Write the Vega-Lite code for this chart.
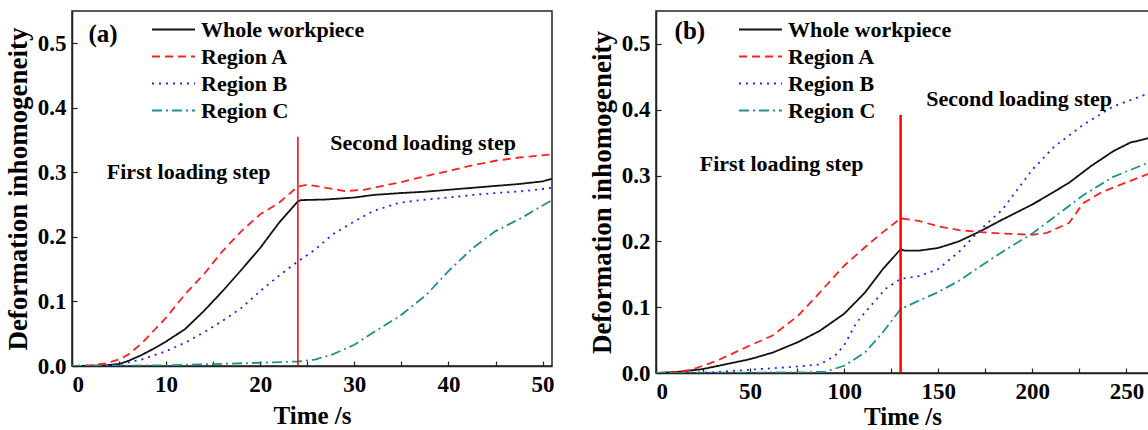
{
  "$schema": "https://vega.github.io/schema/vega-lite/v6.json",
  "padding": {"left": 3, "top": 10, "right": 0, "bottom": 0},
  "background": "white",
  "config": {
    "view": {"stroke": "#222", "strokeWidth": 1.5},
    "font": "Liberation Serif",
    "axis": {
      "labelFont": "Liberation Serif", "labelFontWeight": "bold", "labelFontSize": 23, "labelColor": "black",
      "titleFont": "Liberation Serif", "titleFontWeight": "bold", "titleColor": "black",
      "domainColor": "#222", "domainWidth": 1.5, "tickColor": "#222", "tickWidth": 1.2,
      "tickSize": -5, "grid": false
    },
    "legend": {
      "labelFont": "Liberation Serif", "labelFontWeight": "bold", "labelFontSize": 22, "labelColor": "black", "labelLimit": 400,
      "symbolType": "stroke", "symbolSize": 1849, "symbolStrokeWidth": 1.8, "clipHeight": 27, "rowPadding": 0,
      "labelOffset": 5, "padding": 0, "title": null, "orient": "none"
    }
  },
  "datasets": {
    "lines": [
      {"p": "a", "s": "Whole workpiece", "t": 0, "v": 0},
      {"p": "a", "s": "Whole workpiece", "t": 2, "v": 0.0005},
      {"p": "a", "s": "Whole workpiece", "t": 3.5, "v": 0.001},
      {"p": "a", "s": "Whole workpiece", "t": 5, "v": 0.003},
      {"p": "a", "s": "Whole workpiece", "t": 6, "v": 0.008},
      {"p": "a", "s": "Whole workpiece", "t": 7.4, "v": 0.017},
      {"p": "a", "s": "Whole workpiece", "t": 8.7, "v": 0.027},
      {"p": "a", "s": "Whole workpiece", "t": 10, "v": 0.038},
      {"p": "a", "s": "Whole workpiece", "t": 12, "v": 0.057},
      {"p": "a", "s": "Whole workpiece", "t": 14, "v": 0.085},
      {"p": "a", "s": "Whole workpiece", "t": 16, "v": 0.116},
      {"p": "a", "s": "Whole workpiece", "t": 18, "v": 0.149},
      {"p": "a", "s": "Whole workpiece", "t": 20, "v": 0.183},
      {"p": "a", "s": "Whole workpiece", "t": 22, "v": 0.222},
      {"p": "a", "s": "Whole workpiece", "t": 24, "v": 0.255},
      {"p": "a", "s": "Whole workpiece", "t": 24.3, "v": 0.257},
      {"p": "a", "s": "Whole workpiece", "t": 27, "v": 0.258},
      {"p": "a", "s": "Whole workpiece", "t": 30, "v": 0.261},
      {"p": "a", "s": "Whole workpiece", "t": 32, "v": 0.265},
      {"p": "a", "s": "Whole workpiece", "t": 35, "v": 0.268},
      {"p": "a", "s": "Whole workpiece", "t": 37.5, "v": 0.27},
      {"p": "a", "s": "Whole workpiece", "t": 40, "v": 0.273},
      {"p": "a", "s": "Whole workpiece", "t": 42.5, "v": 0.276},
      {"p": "a", "s": "Whole workpiece", "t": 45, "v": 0.279},
      {"p": "a", "s": "Whole workpiece", "t": 47.5, "v": 0.282},
      {"p": "a", "s": "Whole workpiece", "t": 50, "v": 0.286},
      {"p": "a", "s": "Whole workpiece", "t": 51, "v": 0.29},
      {"p": "a", "s": "Region A", "t": 0, "v": 0},
      {"p": "a", "s": "Region A", "t": 2, "v": 0.001},
      {"p": "a", "s": "Region A", "t": 3.5, "v": 0.004},
      {"p": "a", "s": "Region A", "t": 5, "v": 0.01},
      {"p": "a", "s": "Region A", "t": 6, "v": 0.018},
      {"p": "a", "s": "Region A", "t": 7.4, "v": 0.035},
      {"p": "a", "s": "Region A", "t": 8.7, "v": 0.055},
      {"p": "a", "s": "Region A", "t": 10, "v": 0.075},
      {"p": "a", "s": "Region A", "t": 12, "v": 0.111},
      {"p": "a", "s": "Region A", "t": 14, "v": 0.142},
      {"p": "a", "s": "Region A", "t": 16, "v": 0.178},
      {"p": "a", "s": "Region A", "t": 18, "v": 0.209},
      {"p": "a", "s": "Region A", "t": 20, "v": 0.235},
      {"p": "a", "s": "Region A", "t": 22, "v": 0.253},
      {"p": "a", "s": "Region A", "t": 24, "v": 0.278},
      {"p": "a", "s": "Region A", "t": 25, "v": 0.281},
      {"p": "a", "s": "Region A", "t": 27, "v": 0.276},
      {"p": "a", "s": "Region A", "t": 29, "v": 0.271},
      {"p": "a", "s": "Region A", "t": 31, "v": 0.273},
      {"p": "a", "s": "Region A", "t": 33, "v": 0.279},
      {"p": "a", "s": "Region A", "t": 35, "v": 0.285},
      {"p": "a", "s": "Region A", "t": 37.5, "v": 0.294},
      {"p": "a", "s": "Region A", "t": 40, "v": 0.302},
      {"p": "a", "s": "Region A", "t": 42.5, "v": 0.311},
      {"p": "a", "s": "Region A", "t": 45, "v": 0.318},
      {"p": "a", "s": "Region A", "t": 47.5, "v": 0.323},
      {"p": "a", "s": "Region A", "t": 51, "v": 0.328},
      {"p": "a", "s": "Region B", "t": 0, "v": 0},
      {"p": "a", "s": "Region B", "t": 4, "v": 0.001},
      {"p": "a", "s": "Region B", "t": 5.5, "v": 0.004},
      {"p": "a", "s": "Region B", "t": 7.4, "v": 0.01},
      {"p": "a", "s": "Region B", "t": 10, "v": 0.023},
      {"p": "a", "s": "Region B", "t": 12, "v": 0.036},
      {"p": "a", "s": "Region B", "t": 14, "v": 0.052},
      {"p": "a", "s": "Region B", "t": 16, "v": 0.07},
      {"p": "a", "s": "Region B", "t": 18, "v": 0.09},
      {"p": "a", "s": "Region B", "t": 20, "v": 0.116},
      {"p": "a", "s": "Region B", "t": 22, "v": 0.14},
      {"p": "a", "s": "Region B", "t": 24, "v": 0.162},
      {"p": "a", "s": "Region B", "t": 25.8, "v": 0.18},
      {"p": "a", "s": "Region B", "t": 27.7, "v": 0.204},
      {"p": "a", "s": "Region B", "t": 30, "v": 0.224},
      {"p": "a", "s": "Region B", "t": 32, "v": 0.24},
      {"p": "a", "s": "Region B", "t": 34.8, "v": 0.253},
      {"p": "a", "s": "Region B", "t": 37.7, "v": 0.258},
      {"p": "a", "s": "Region B", "t": 40, "v": 0.261},
      {"p": "a", "s": "Region B", "t": 42.6, "v": 0.265},
      {"p": "a", "s": "Region B", "t": 45, "v": 0.268},
      {"p": "a", "s": "Region B", "t": 48, "v": 0.271},
      {"p": "a", "s": "Region B", "t": 51, "v": 0.276},
      {"p": "a", "s": "Region C", "t": 0, "v": 0},
      {"p": "a", "s": "Region C", "t": 10, "v": 0.001},
      {"p": "a", "s": "Region C", "t": 15, "v": 0.003},
      {"p": "a", "s": "Region C", "t": 20, "v": 0.005},
      {"p": "a", "s": "Region C", "t": 24, "v": 0.007},
      {"p": "a", "s": "Region C", "t": 25.8, "v": 0.01},
      {"p": "a", "s": "Region C", "t": 27.7, "v": 0.018},
      {"p": "a", "s": "Region C", "t": 30, "v": 0.033},
      {"p": "a", "s": "Region C", "t": 32, "v": 0.052},
      {"p": "a", "s": "Region C", "t": 34.8, "v": 0.077},
      {"p": "a", "s": "Region C", "t": 37.7, "v": 0.111},
      {"p": "a", "s": "Region C", "t": 40, "v": 0.147},
      {"p": "a", "s": "Region C", "t": 42.6, "v": 0.183},
      {"p": "a", "s": "Region C", "t": 45, "v": 0.209},
      {"p": "a", "s": "Region C", "t": 47.7, "v": 0.229},
      {"p": "a", "s": "Region C", "t": 51, "v": 0.257},
      {"p": "b", "s": "Whole workpiece", "t": 0, "v": 0},
      {"p": "b", "s": "Whole workpiece", "t": 13, "v": 0.002},
      {"p": "b", "s": "Whole workpiece", "t": 25, "v": 0.006},
      {"p": "b", "s": "Whole workpiece", "t": 36.6, "v": 0.013},
      {"p": "b", "s": "Whole workpiece", "t": 50, "v": 0.021},
      {"p": "b", "s": "Whole workpiece", "t": 62, "v": 0.031},
      {"p": "b", "s": "Whole workpiece", "t": 75.5, "v": 0.047},
      {"p": "b", "s": "Whole workpiece", "t": 87, "v": 0.064},
      {"p": "b", "s": "Whole workpiece", "t": 100, "v": 0.09},
      {"p": "b", "s": "Whole workpiece", "t": 111, "v": 0.122},
      {"p": "b", "s": "Whole workpiece", "t": 120.6, "v": 0.158},
      {"p": "b", "s": "Whole workpiece", "t": 130, "v": 0.188},
      {"p": "b", "s": "Whole workpiece", "t": 132, "v": 0.186},
      {"p": "b", "s": "Whole workpiece", "t": 140, "v": 0.186},
      {"p": "b", "s": "Whole workpiece", "t": 150, "v": 0.19},
      {"p": "b", "s": "Whole workpiece", "t": 161, "v": 0.2},
      {"p": "b", "s": "Whole workpiece", "t": 172.8, "v": 0.216},
      {"p": "b", "s": "Whole workpiece", "t": 184, "v": 0.233},
      {"p": "b", "s": "Whole workpiece", "t": 200, "v": 0.256},
      {"p": "b", "s": "Whole workpiece", "t": 207.8, "v": 0.269},
      {"p": "b", "s": "Whole workpiece", "t": 219.5, "v": 0.289},
      {"p": "b", "s": "Whole workpiece", "t": 231, "v": 0.314},
      {"p": "b", "s": "Whole workpiece", "t": 243, "v": 0.337},
      {"p": "b", "s": "Whole workpiece", "t": 252, "v": 0.35},
      {"p": "b", "s": "Whole workpiece", "t": 262, "v": 0.357},
      {"p": "b", "s": "Region A", "t": 0, "v": 0},
      {"p": "b", "s": "Region A", "t": 10, "v": 0.001},
      {"p": "b", "s": "Region A", "t": 19, "v": 0.005},
      {"p": "b", "s": "Region A", "t": 32.7, "v": 0.019},
      {"p": "b", "s": "Region A", "t": 50, "v": 0.042},
      {"p": "b", "s": "Region A", "t": 62, "v": 0.057},
      {"p": "b", "s": "Region A", "t": 75.5, "v": 0.087},
      {"p": "b", "s": "Region A", "t": 87, "v": 0.122},
      {"p": "b", "s": "Region A", "t": 100, "v": 0.163},
      {"p": "b", "s": "Region A", "t": 111, "v": 0.191},
      {"p": "b", "s": "Region A", "t": 120.6, "v": 0.214},
      {"p": "b", "s": "Region A", "t": 130, "v": 0.235},
      {"p": "b", "s": "Region A", "t": 139.7, "v": 0.231},
      {"p": "b", "s": "Region A", "t": 150, "v": 0.223},
      {"p": "b", "s": "Region A", "t": 161, "v": 0.217},
      {"p": "b", "s": "Region A", "t": 172.8, "v": 0.214},
      {"p": "b", "s": "Region A", "t": 184, "v": 0.212},
      {"p": "b", "s": "Region A", "t": 200, "v": 0.21},
      {"p": "b", "s": "Region A", "t": 207.8, "v": 0.213},
      {"p": "b", "s": "Region A", "t": 219.5, "v": 0.228},
      {"p": "b", "s": "Region A", "t": 227, "v": 0.258},
      {"p": "b", "s": "Region A", "t": 237, "v": 0.275},
      {"p": "b", "s": "Region A", "t": 248.6, "v": 0.288},
      {"p": "b", "s": "Region A", "t": 262, "v": 0.303},
      {"p": "b", "s": "Region B", "t": 0, "v": 0},
      {"p": "b", "s": "Region B", "t": 30, "v": 0.001},
      {"p": "b", "s": "Region B", "t": 50, "v": 0.005},
      {"p": "b", "s": "Region B", "t": 71.6, "v": 0.009},
      {"p": "b", "s": "Region B", "t": 87, "v": 0.013},
      {"p": "b", "s": "Region B", "t": 95, "v": 0.026},
      {"p": "b", "s": "Region B", "t": 100, "v": 0.042},
      {"p": "b", "s": "Region B", "t": 106.6, "v": 0.077},
      {"p": "b", "s": "Region B", "t": 114.4, "v": 0.103},
      {"p": "b", "s": "Region B", "t": 122, "v": 0.128},
      {"p": "b", "s": "Region B", "t": 130, "v": 0.143},
      {"p": "b", "s": "Region B", "t": 139.7, "v": 0.147},
      {"p": "b", "s": "Region B", "t": 150, "v": 0.158},
      {"p": "b", "s": "Region B", "t": 161, "v": 0.184},
      {"p": "b", "s": "Region B", "t": 172.8, "v": 0.219},
      {"p": "b", "s": "Region B", "t": 184, "v": 0.248},
      {"p": "b", "s": "Region B", "t": 200, "v": 0.309},
      {"p": "b", "s": "Region B", "t": 211.7, "v": 0.344},
      {"p": "b", "s": "Region B", "t": 227, "v": 0.377},
      {"p": "b", "s": "Region B", "t": 243, "v": 0.405},
      {"p": "b", "s": "Region B", "t": 262, "v": 0.425},
      {"p": "b", "s": "Region C", "t": 0, "v": 0},
      {"p": "b", "s": "Region C", "t": 80, "v": 0.001},
      {"p": "b", "s": "Region C", "t": 90, "v": 0.002},
      {"p": "b", "s": "Region C", "t": 100, "v": 0.011},
      {"p": "b", "s": "Region C", "t": 111, "v": 0.031},
      {"p": "b", "s": "Region C", "t": 120.6, "v": 0.062},
      {"p": "b", "s": "Region C", "t": 130, "v": 0.097},
      {"p": "b", "s": "Region C", "t": 139.7, "v": 0.11},
      {"p": "b", "s": "Region C", "t": 150, "v": 0.123},
      {"p": "b", "s": "Region C", "t": 161, "v": 0.14},
      {"p": "b", "s": "Region C", "t": 172.8, "v": 0.163},
      {"p": "b", "s": "Region C", "t": 184, "v": 0.184},
      {"p": "b", "s": "Region C", "t": 200, "v": 0.212},
      {"p": "b", "s": "Region C", "t": 211.7, "v": 0.237},
      {"p": "b", "s": "Region C", "t": 227, "v": 0.27},
      {"p": "b", "s": "Region C", "t": 243, "v": 0.298},
      {"p": "b", "s": "Region C", "t": 262, "v": 0.32}
    ],
    "steps": [
      {"p": "a", "t": 24, "v0": 0, "v1": 0.355},
      {"p": "b", "t": 130, "v0": 0, "v1": 0.392}
    ],
    "notes": [
      {"p": "a", "t": 3.3, "v": 0.514, "txt": "(a)", "size": 25},
      {"p": "a", "t": 12.4, "v": 0.3, "txt": "First loading step", "size": 22},
      {"p": "a", "t": 37.3, "v": 0.345, "txt": "Second loading step", "size": 22},
      {"p": "b", "t": 18, "v": 0.519, "txt": "(b)", "size": 25},
      {"p": "b", "t": 66.8, "v": 0.317, "txt": "First loading step", "size": 22},
      {"p": "b", "t": 193, "v": 0.417, "txt": "Second loading step", "size": 22}
    ]
  },
  "resolve": {"scale": {"color": "independent", "strokeDash": "independent"}},
  "spacing": 32,
  "hconcat": [
    {
      "width": 480, "height": 355,
      "layer": [
        {
          "data": {"name": "lines"},
          "transform": [{"filter": "datum.p === 'a'"}],
          "mark": {"type": "line", "strokeWidth": 1.8, "clip": true},
          "encoding": {
            "x": {"field": "t", "type": "quantitative", "scale": {"domain": [0, 51], "nice": false},
                  "axis": {"title": "Time /s", "titleFontSize": 25, "titlePadding": 7, "values": [0,5,10,15,20,25,30,35,40,45,50], "labelExpr": "datum.value % 10 === 0 ? datum.label : ''", "labelPadding": 12}},
            "y": {"field": "v", "type": "quantitative", "scale": {"domain": [0, 0.55], "nice": false},
                  "axis": {"title": "Deformation inhomogeneity", "titleFontSize": 27, "titlePadding": 5, "values": [0,0.05,0.1,0.15,0.2,0.25,0.3,0.35,0.4,0.45,0.5,0.55], "format": ".1f", "labelExpr": "round(datum.value*100) % 10 === 0 ? datum.label : ''", "labelPadding": 11}},
            "color": {"field": "s", "type": "nominal",
                      "scale": {"domain": ["Whole workpiece", "Region A", "Region B", "Region C"], "range": ["#111111", "#ff2020", "#2020ff", "#1f8f8f"]},
                      "legend": {"legendX": 79, "legendY": 5}},
            "strokeDash": {"field": "s", "type": "nominal",
                           "scale": {"domain": ["Whole workpiece", "Region A", "Region B", "Region C"], "range": [[1, 0], [8, 5], [2, 5], [10, 4, 2, 4]]},
                           "legend": {"legendX": 79, "legendY": 5}}
          }
        },
        {
          "data": {"name": "steps"},
          "transform": [{"filter": "datum.p === 'a'"}],
          "mark": {"type": "rule", "color": "#ff0000", "strokeWidth": 1.5},
          "encoding": {"x": {"field": "t", "type": "quantitative"}, "y": {"field": "v0", "type": "quantitative"}, "y2": {"field": "v1"}}
        },
        {
          "data": {"name": "notes"},
          "transform": [{"filter": "datum.p === 'a'"}],
          "mark": {"type": "text", "font": "Liberation Serif", "fontWeight": "bold", "align": "center", "baseline": "middle", "color": "black"},
          "encoding": {"x": {"field": "t", "type": "quantitative"}, "y": {"field": "v", "type": "quantitative"}, "text": {"field": "txt"}, "size": {"field": "size", "type": "quantitative", "scale": null}}
        }
      ]
    },
    {
      "width": 493, "height": 362,
      "layer": [
        {
          "data": {"name": "lines"},
          "transform": [{"filter": "datum.p === 'b'"}],
          "mark": {"type": "line", "strokeWidth": 1.8, "clip": true},
          "encoding": {
            "x": {"field": "t", "type": "quantitative", "scale": {"domain": [0, 262], "nice": false},
                  "axis": {"title": "Time /s", "titleFontSize": 25, "titlePadding": 1, "values": [0,25,50,75,100,125,150,175,200,225,250], "labelExpr": "datum.value % 50 === 0 ? datum.label : ''", "labelPadding": 12}},
            "y": {"field": "v", "type": "quantitative", "scale": {"domain": [0, 0.55], "nice": false},
                  "axis": {"title": "Deformation inhomogeneity", "titleFontSize": 27, "titlePadding": 5, "values": [0,0.05,0.1,0.15,0.2,0.25,0.3,0.35,0.4,0.45,0.5,0.55], "format": ".1f", "labelExpr": "round(datum.value*100) % 10 === 0 ? datum.label : ''", "labelPadding": 11}},
            "color": {"field": "s", "type": "nominal",
                      "scale": {"domain": ["Whole workpiece", "Region A", "Region B", "Region C"], "range": ["#111111", "#ff2020", "#2020ff", "#1f8f8f"]},
                      "legend": {"legendX": 82, "legendY": 5}},
            "strokeDash": {"field": "s", "type": "nominal",
                           "scale": {"domain": ["Whole workpiece", "Region A", "Region B", "Region C"], "range": [[1, 0], [8, 5], [2, 5], [10, 4, 2, 4]]},
                           "legend": {"legendX": 82, "legendY": 5}}
          }
        },
        {
          "data": {"name": "steps"},
          "transform": [{"filter": "datum.p === 'b'"}],
          "mark": {"type": "rule", "color": "#ff0000", "strokeWidth": 2.5},
          "encoding": {"x": {"field": "t", "type": "quantitative"}, "y": {"field": "v0", "type": "quantitative"}, "y2": {"field": "v1"}}
        },
        {
          "data": {"name": "notes"},
          "transform": [{"filter": "datum.p === 'b'"}],
          "mark": {"type": "text", "font": "Liberation Serif", "fontWeight": "bold", "align": "center", "baseline": "middle", "color": "black"},
          "encoding": {"x": {"field": "t", "type": "quantitative"}, "y": {"field": "v", "type": "quantitative"}, "text": {"field": "txt"}, "size": {"field": "size", "type": "quantitative", "scale": null}}
        }
      ]
    }
  ]
}
